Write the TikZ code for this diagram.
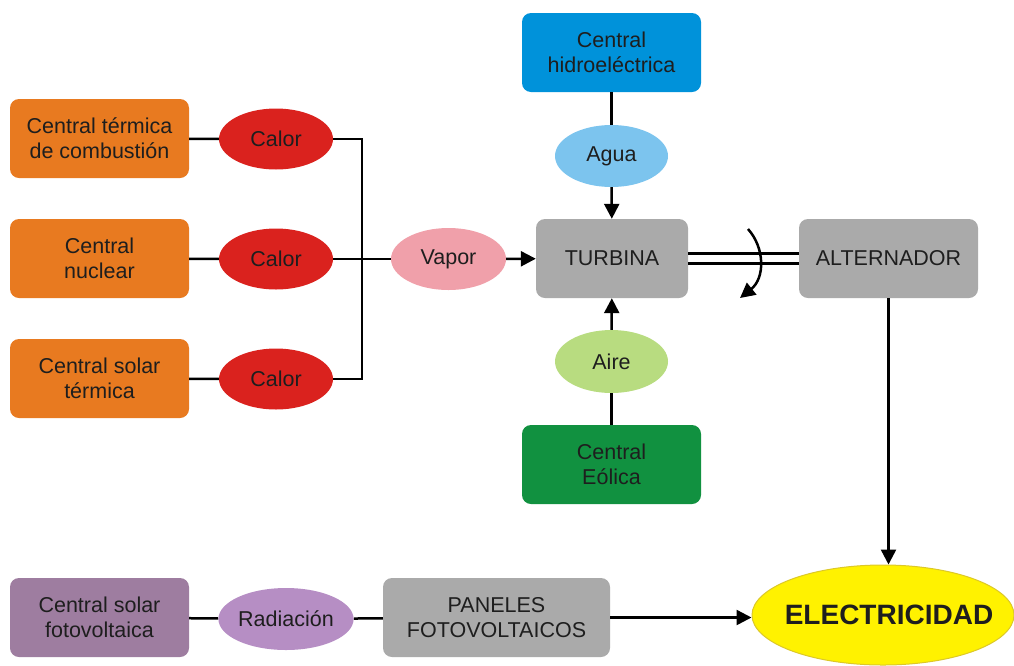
\documentclass[tikz,border=0pt]{standalone}
\usepackage{fontspec}
\setmainfont{Liberation Sans}
\usetikzlibrary{shapes.geometric,arrows.meta}
\definecolor{corange}{RGB}{232,122,32}
\definecolor{cred}{RGB}{218,34,30}
\definecolor{cpink}{RGB}{240,160,170}
\definecolor{cgray}{RGB}{170,170,170}
\definecolor{cblue}{RGB}{0,146,218}
\definecolor{clblue}{RGB}{124,196,238}
\definecolor{clgreen}{RGB}{184,220,128}
\definecolor{cgreen}{RGB}{17,145,64}
\definecolor{cyellow}{RGB}{255,242,0}
\definecolor{cyedge}{RGB}{220,200,40}
\definecolor{cpurple}{RGB}{158,125,160}
\definecolor{clpurple}{RGB}{182,142,196}
\definecolor{ctext}{RGB}{30,30,30}
\tikzset{
  box/.style={rectangle,rounded corners=9pt,minimum width=179pt,minimum height=79pt,align=center,text=ctext,font=\fontsize{21.5}{25}\selectfont,inner sep=0pt},
  oval/.style={ellipse,minimum width=114pt,minimum height=61pt,inner sep=0pt,text=ctext,font=\fontsize{21.5}{25}\selectfont},
  conn/.style={line width=2.5pt,black},
  arr/.style={conn,-{Triangle[length=15pt,width=15pt]}}
}
\begin{document}
\begin{tikzpicture}[x=1pt,y=-1pt]
\useasboundingbox (0,0) rectangle (1014,665);
% boxes
\node[box,fill=corange] (ct) at (99.5,138.5) {Central térmica\\de combustión};
\node[box,fill=corange] (cn) at (99.5,258.5) {Central\\nuclear};
\node[box,fill=corange] (cs) at (99.5,378.5) {Central solar\\térmica};
\node[oval,fill=cred] (c1) at (276,139) {Calor};
\node[oval,fill=cred] (c2) at (276,259) {Calor};
\node[oval,fill=cred] (c3) at (276,379) {Calor};
\node[oval,fill=cpink,minimum width=115pt,minimum height=62pt] (vap) at (448.5,259) {Vapor};
\node[box,fill=cgray,minimum width=152pt] (tur) at (612,258.5) {TURBINA};
\node[box,fill=cgray] (alt) at (888.5,258.5) {ALTERNADOR};
\node[box,fill=cblue] (hid) at (611.5,52.5) {Central\\hidroeléctrica};
\node[oval,fill=clblue,minimum width=113pt,minimum height=62pt] (agua) at (611.5,156) {Agua};
\node[oval,fill=clgreen,minimum width=113pt,minimum height=63pt] (aire) at (611.5,361.5) {Aire};
\node[box,fill=cgreen] (eol) at (611.5,464.5) {Central\\Eólica};
\node[box,fill=cpurple] (fv) at (99.5,617.5) {Central solar\\fotovoltaica};
\node[oval,fill=clpurple,minimum width=134pt,minimum height=62pt] (rad) at (286,619) {Radiación};
\node[box,fill=cgray,minimum width=227pt] (pan) at (496.5,617.5) {PANELES\\FOTOVOLTAICOS};
\node[ellipse,fill=cyellow,draw=cyedge,line width=1pt,minimum width=262pt,minimum height=100pt,inner sep=0pt,text=ctext,font=\fontsize{28}{32}\selectfont\bfseries] (ele) at (883,615) {\makebox[0pt]{\hspace{12pt}ELECTRICIDAD}};
% connectors
\coordinate (j) at (362,259);
\draw[conn] (ct) -- (c1);
\draw[conn] (cn) -- (c2);
\draw[conn] (cs) -- (c3);
\draw[conn] (c1.east) -| (j);
\draw[conn] (c3.east) -| (j);
\draw[conn] (c2.east) -- (vap.west);
\draw[arr] (vap) -- (tur);
\draw[conn] (hid) -- (agua);
\draw[arr] (agua) -- (tur);
\draw[conn] (eol) -- (aire);
\draw[arr] (aire) -- (tur);
\draw[conn] (fv) -- (rad);
\draw[conn] (rad) -- (pan);
\draw[arr] (pan.east) -- (pan.east -| ele.west);
\draw[arr] (alt.south) -- (alt.south |- ele.north);
% shaft
\draw[conn] ([yshift=-5pt]tur.east) -- ([yshift=-5pt]alt.west);
\draw[conn] ([yshift=5pt]tur.east) -- ([yshift=5pt]alt.west);
\coordinate (r1) at (748,229);
\coordinate (r2) at (740,298);
\draw[arr] (r1) .. controls (765,248) and (765,278) .. (r2);
\end{tikzpicture}
\end{document}
